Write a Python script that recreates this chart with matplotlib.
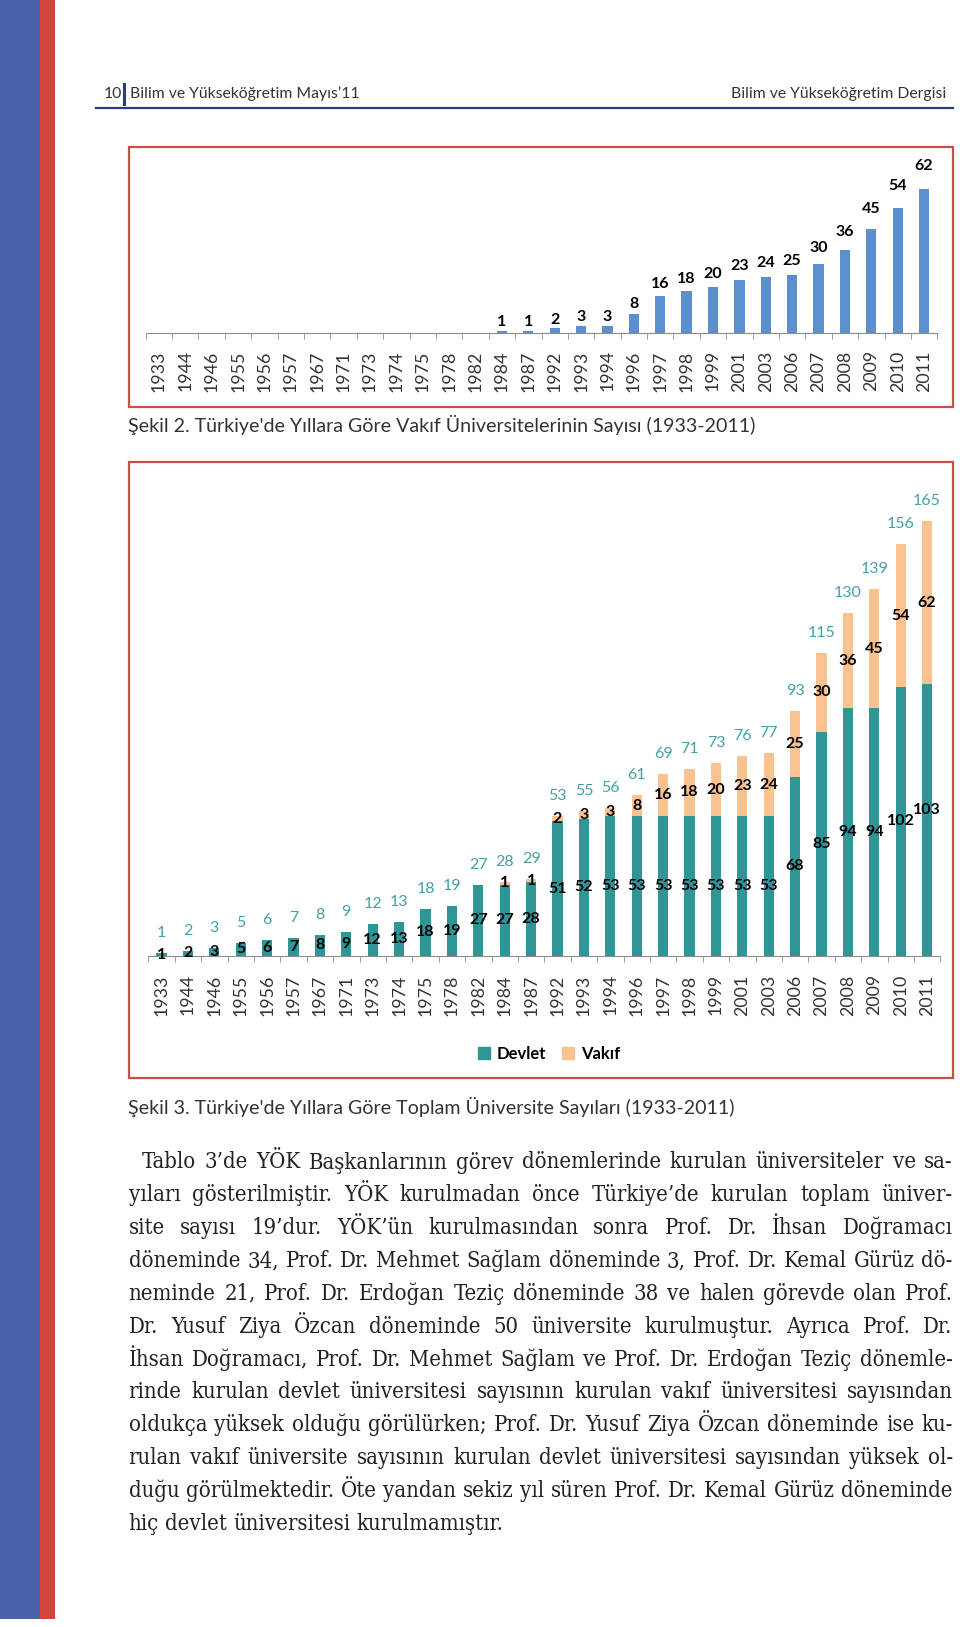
import matplotlib
matplotlib.use('Agg')
import matplotlib.pyplot as plt
import numpy as np
from matplotlib.patches import Rectangle
from matplotlib.lines import Line2D

#Page size in pixels (dpi 100)
W = 960
H = 1627

#Years on the x axis of both charts
years = ["1933", "1944", "1946", "1955", "1956", "1957", "1967", "1971", "1973", "1974",
         "1975", "1978", "1982", "1984", "1987", "1992", "1993", "1994", "1996", "1997",
         "1998", "1999", "2001", "2003", "2006", "2007", "2008", "2009", "2010", "2011"]

#State universities
devlet = [1, 2, 3, 5, 6, 7, 8, 9, 12, 13, 18, 19, 27, 27, 28, 51, 52, 53, 53, 53,
          53, 53, 53, 53, 68, 85, 94, 94, 102, 103]

#Foundation universities
vakif = [0, 0, 0, 0, 0, 0, 0, 0, 0, 0, 0, 0, 0, 1, 1, 2, 3, 3, 8, 16,
         18, 20, 23, 24, 25, 30, 36, 45, 54, 62]

#Totals as printed above the bars
toplam = [1, 2, 3, 5, 6, 7, 8, 9, 12, 13, 18, 19, 27, 28, 29, 53, 55, 56, 61, 69,
          71, 73, 76, 77, 93, 115, 130, 139, 156, 165]

legend_labels = ["Devlet", "Vakıf"]

header_left = "Bilim ve Yükseköğretim Mayıs’11"
header_right = "Bilim ve Yükseköğretim Dergisi"
caption2 = "Şekil 2. Türkiye'de Yıllara Göre Vakıf Üniversitelerinin Sayısı (1933-2011)"
caption3 = "Şekil 3. Türkiye'de Yıllara Göre Toplam Üniversite Sayıları (1933-2011)"

#Body text, line by line as in the page
body = [
    "Tablo 3’de YÖK Başkanlarının görev dönemlerinde kurulan üniversiteler ve sa-",
    "yıları gösterilmiştir. YÖK kurulmadan önce Türkiye’de kurulan toplam üniver-",
    "site sayısı 19’dur. YÖK’ün kurulmasından sonra Prof. Dr. İhsan Doğramacı",
    "döneminde 34, Prof. Dr. Mehmet Sağlam döneminde 3, Prof. Dr. Kemal Gürüz dö-",
    "neminde 21, Prof. Dr. Erdoğan Teziç döneminde 38 ve halen görevde olan Prof.",
    "Dr. Yusuf Ziya Özcan döneminde 50 üniversite kurulmuştur. Ayrıca Prof. Dr.",
    "İhsan Doğramacı, Prof. Dr. Mehmet Sağlam ve Prof. Dr. Erdoğan Teziç dönemle-",
    "rinde kurulan devlet üniversitesi sayısının kurulan vakıf üniversitesi sayısından",
    "oldukça yüksek olduğu görülürken; Prof. Dr. Yusuf Ziya Özcan döneminde ise ku-",
    "rulan vakıf üniversite sayısının kurulan devlet üniversitesi sayısından yüksek ol-",
    "duğu görülmektedir. Öte yandan sekiz yıl süren Prof. Dr. Kemal Gürüz döneminde",
    "hiç devlet üniversitesi kurulmamıştır.",
]

#Colours
blue_bar = "#5b8fcd"
teal = "#2f9597"
peach = "#f9c28f"
teal_text = "#45a0a3"
box_red = "#c4504a"
navy = "#2d3a8c"
sans = ["Lato", "DejaVu Sans"]
serif = {"family": ["DejaVu Serif"], "fontstretch": "condensed"}

fig = plt.figure(figsize=(W / 100, H / 100), dpi=100)
renderer = fig.canvas.get_renderer()


def px_axes(left, top, right, bottom):
    "Axes placed with page pixel coordinates"
    return fig.add_axes([left / W, 1 - bottom / H, (right - left) / W, (bottom - top) / H])


def text_width(s, size, **kw):
    t = fig.text(0, 0, s, fontsize=size, **kw)
    w = t.get_window_extent(renderer).width
    t.remove()
    return w


def fit_size(s, width, **kw):
    return 10 * width / text_width(s, 10, **kw)


def page_rect(x0, y0, x1, y1, **kw):
    fig.patches.append(Rectangle((x0 / W, 1 - y1 / H), (x1 - x0) / W, (y1 - y0) / H,
                                 transform=fig.transFigure, **kw))


def style_axis(ax, pad):
    for side in ["left", "right", "top"]:
        ax.spines[side].set_visible(False)
    ax.spines["bottom"].set_color("#8c8c8c")
    ax.set_yticks([])
    ax.set_xlim(-0.5, len(years) - 0.5)
    ax.set_xticks(range(len(years)))
    ax.set_xticklabels(years, rotation=90, fontsize=12.8, color="#333333", family=sans)
    ax.set_xticks(np.arange(-0.5, len(years)), minor=True)
    ax.tick_params(axis="x", which="major", length=0, pad=pad)
    ax.tick_params(axis="x", which="minor", length=4.5, color="#8c8c8c")
    ax.patch.set_alpha(0)


#Side stripes of the page
page_rect(0, 0, 40, 1619, color="#4a62ac", lw=0)
page_rect(40, 0, 55, 1619, color="#d2453a", lw=0)

#Header
hs = fit_size(header_right, 215, family=sans)
fig.text(104 / W, 1 - 94 / H, "10", fontsize=hs, family=sans, color="#333333", va="center")
fig.lines.append(Line2D([124 / W, 124 / W], [1 - 84 / H, 1 - 104 / H], transform=fig.transFigure,
                        color=navy, lw=2.2))
fig.text(130 / W, 1 - 94 / H, header_left, fontsize=hs, family=sans, color="#333333", va="center")
fig.text(946.5 / W, 1 - 94 / H, header_right, fontsize=hs, family=sans, color="#333333",
         va="center", ha="right")
fig.lines.append(Line2D([95.5 / W, 952.7 / W], [1 - 107.5 / H, 1 - 107.5 / H],
                        transform=fig.transFigure, color=navy, lw=1.6))

#Chart boxes
page_rect(129, 147, 952.7, 407, fill=False, ec=box_red, lw=1.6)
page_rect(129, 461.7, 952.7, 1078, fill=False, ec=box_red, lw=1.6)

x = np.arange(len(years))

#Chart 1: foundation universities
ax1 = px_axes(145.7, 333 - 75 * 2.315, 937.3, 333)
ax1.bar(x, vakif, width=0.39, color=blue_bar)
ax1.set_ylim(0, 75)
style_axis(ax1, 12.5)
for i, v in enumerate(vakif):
    if v > 0:
        #labels sit a little higher on the tall bars, as in the original
        ax1.annotate(str(v), (i, v * 1.11), xytext=(0, 8), textcoords="offset pixels",
                     ha="center", va="center", fontsize=11.5, fontweight="bold",
                     family=sans, color="black")

#Chart 2: state + foundation
ax2 = px_axes(148.3, 956 - 180 * 2.638, 940.3, 956)
ax2.bar(x, devlet, width=0.39, color=teal)
ax2.bar(x, vakif, width=0.39, bottom=devlet, color=peach)
ax2.set_ylim(0, 180)
style_axis(ax2, 13.2)
prev = None
for i in range(len(years)):
    t = ax2.annotate(str(devlet[i]), (i, devlet[i] / 2), xytext=(0, 0), textcoords="offset pixels",
                     ha="center", va="center", fontsize=11.5, fontweight="bold",
                     family=sans, color="black")
    bb = t.get_window_extent(renderer)
    #push a label up when it runs into its neighbour
    if prev is not None and bb.overlaps(prev):
        t.xyann = (0, 0.7 * bb.height)
        bb = t.get_window_extent(renderer)
    prev = bb
    if vakif[i] > 0:
        ax2.text(i, devlet[i] + vakif[i] / 2, str(vakif[i]), ha="center", va="center",
                 fontsize=11.5, fontweight="bold", family=sans, color="black")
    ax2.annotate(str(toplam[i]), (i, toplam[i]), xytext=(0, 20), textcoords="offset pixels",
                 ha="center", va="center", fontsize=11.5, family=sans, color=teal_text)

handles = [Rectangle((0, 0), 1, 1, color=teal), Rectangle((0, 0), 1, 1, color=peach)]
fig.legend(handles, legend_labels, loc="center", bbox_to_anchor=(549 / W, 1 - 1054 / H),
           ncol=2, frameon=False, handlelength=0.7, handleheight=0.7, handletextpad=0.4,
           columnspacing=1.0, prop={"family": sans, "weight": "bold", "size": 12})

#Captions
cs = fit_size(caption2, 626, family=sans)
fig.text(128 / W, 1 - 425 / H, caption2, fontsize=cs, family=sans, color="#333333", va="center")
fig.text(128 / W, 1 - 1107 / H, caption3, fontsize=cs, family=sans, color="#333333", va="center")

#Body text, justified
left, right = 128.7, 952.7
bs = min(fit_size(line, right - (142 if k == 0 else left), **serif)
         for k, line in enumerate(body)) * 0.99
space = text_width("a b", bs, **serif) - text_width("ab", bs, **serif)
for k, line in enumerate(body):
    y = 1168.5 + 32.84 * k
    x0 = 142 if k == 0 else left
    words = line.split(" ")
    widths = [text_width(w, bs, **serif) for w in words]
    if k < len(body) - 1:
        gap = (right - x0 - sum(widths)) / (len(words) - 1)
    else:
        gap = space
    xx = x0
    for w, wd in zip(words, widths):
        fig.text(xx / W, 1 - y / H, w, fontsize=bs, color="#222222", va="baseline", **serif)
        xx += wd + gap

fig.savefig("out.png", dpi=100)
